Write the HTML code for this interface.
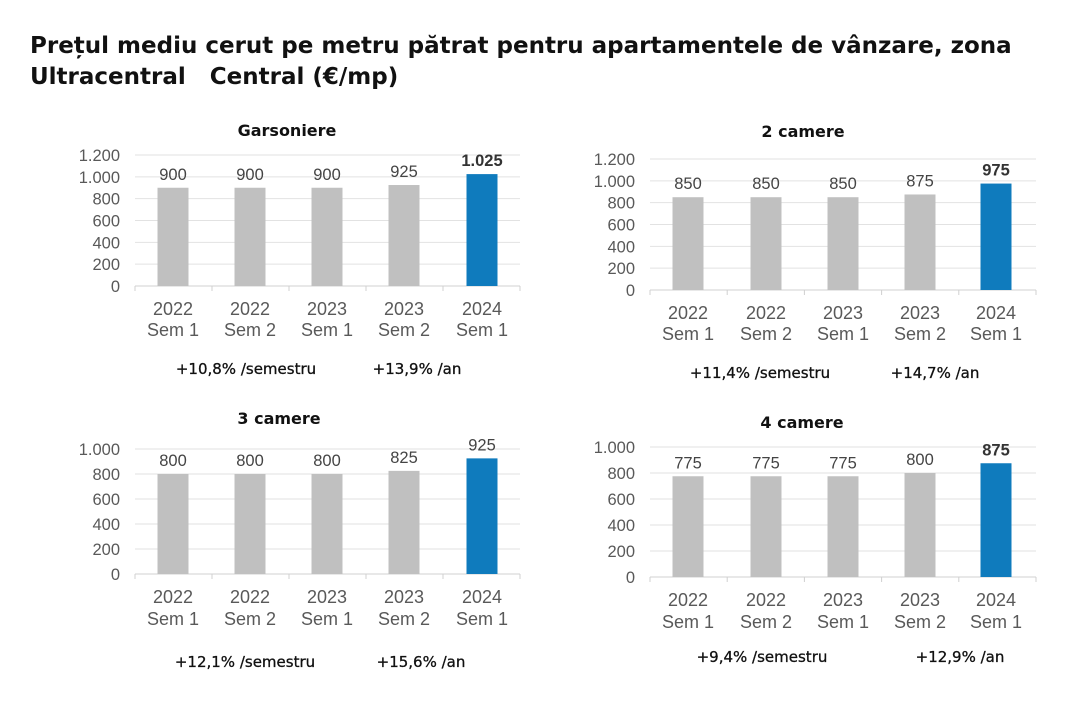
<!DOCTYPE html>
<html><head><meta charset="utf-8"><style>
body{margin:0;background:#fff;width:1080px;height:708px;overflow:hidden;font-family:"Liberation Sans",sans-serif}
h1{position:absolute;left:30px;top:31px;margin:0;font-family:"DejaVu Sans",sans-serif;font-size:23px;line-height:31px;font-weight:bold;color:#111;letter-spacing:0;white-space:nowrap}
svg{position:absolute;left:0;top:0}
</style></head><body>
<h1>Prețul mediu cerut pe metru pătrat pentru apartamentele de vânzare, zona<br>Ultracentral&nbsp;&nbsp; Central (€/mp)</h1>
<svg id="s" width="1080" height="708" font-family="Liberation Sans, sans-serif"></svg>
<script>
var charts=[
{t:"Garsoniere",tx:287,ty:136,x0:135,x1:520,cx:[173,250,327,404,482],base:286,ppu:131/1200,max:1200,v:[900,900,900,925,1025],vl:["900","900","900","925","1.025"],bold:true,ly:[315,336],f:[["+10,8% /semestru",246],["+13,9% /an",417]],fy:374},
{t:"2 camere",tx:803,ty:137,x0:650,x1:1036,cx:[688,766,843,920,996],base:290,ppu:131/1200,max:1200,v:[850,850,850,875,975],vl:["850","850","850","875","975"],bold:true,ly:[319,340],f:[["+11,4% /semestru",760],["+14,7% /an",935]],fy:378},
{t:"3 camere",tx:279,ty:424,x0:135,x1:520,cx:[173,250,327,404,482],base:574,ppu:125/1000,max:1000,v:[800,800,800,825,925],vl:["800","800","800","825","925"],bold:false,ly:[603,625],f:[["+12,1% /semestru",245],["+15,6% /an",421]],fy:667},
{t:"4 camere",tx:802,ty:428,x0:650,x1:1036,cx:[688,766,843,920,996],base:577,ppu:130/1000,max:1000,v:[775,775,775,800,875],vl:["775","775","775","800","875"],bold:true,ly:[606,628],f:[["+9,4% /semestru",762],["+12,9% /an",960]],fy:662}
];
var h="";
var lab=[["2022","Sem 1"],["2022","Sem 2"],["2023","Sem 1"],["2023","Sem 2"],["2024","Sem 1"]];
charts.forEach(function(c){
 h+='<text x="'+c.tx+'" y="'+c.ty+'" font-family="DejaVu Sans, sans-serif" font-size="16" font-weight="bold" fill="#111" text-anchor="middle">'+c.t+'</text>';
 for(var g=0;g<=c.max;g+=200){var y=c.base-g*c.ppu;
  if(g>0)h+='<line x1="'+c.x0+'" x2="'+c.x1+'" y1="'+y+'" y2="'+y+'" stroke="#e2e2e2" stroke-width="1"/>';
  var s=g>=1000?(Math.floor(g/1000)+"."+String(g%1000).padStart(3,"0")):String(g);
  h+='<text x="'+(c.x0-15)+'" y="'+(y+6)+'" font-size="16.5" fill="#595959" text-anchor="end">'+s+'</text>';}
 h+='<line x1="'+c.x0+'" x2="'+c.x1+'" y1="'+c.base+'" y2="'+c.base+'" stroke="#d0d0d0"/>';
 for(var i=0;i<=5;i++){var x=c.x0+i*(c.x1-c.x0)/5;h+='<line x1="'+x+'" x2="'+x+'" y1="'+c.base+'" y2="'+(c.base+5)+'" stroke="#d0d0d0"/>';}
 c.cx.forEach(function(x,i){var hh=c.v[i]*c.ppu,last=i==4;
  h+='<rect x="'+(x-15.5)+'" y="'+(c.base-hh)+'" width="31" height="'+hh+'" fill="'+(last?'#0f7bbd':'#c0c0c0')+'"/>';
  h+='<text x="'+x+'" y="'+(c.base-hh-8)+'" font-size="16.5" text-anchor="middle" fill="'+(last&&c.bold?'#333':'#444')+'" font-weight="'+(last&&c.bold?'bold':'normal')+'">'+c.vl[i]+'</text>';
  h+='<text x="'+x+'" y="'+c.ly[0]+'" font-size="18" fill="#595959" text-anchor="middle">'+lab[i][0]+'</text>';
  h+='<text x="'+x+'" y="'+c.ly[1]+'" font-size="18" fill="#595959" text-anchor="middle">'+lab[i][1]+'</text>';});
 c.f.forEach(function(f){h+='<text x="'+f[1]+'" y="'+c.fy+'" font-family="DejaVu Sans, sans-serif" font-size="15" fill="#111" stroke="#111" stroke-width="0.3" text-anchor="middle">'+f[0]+'</text>';});
});
document.getElementById("s").innerHTML=h;
</script>
</body></html>
